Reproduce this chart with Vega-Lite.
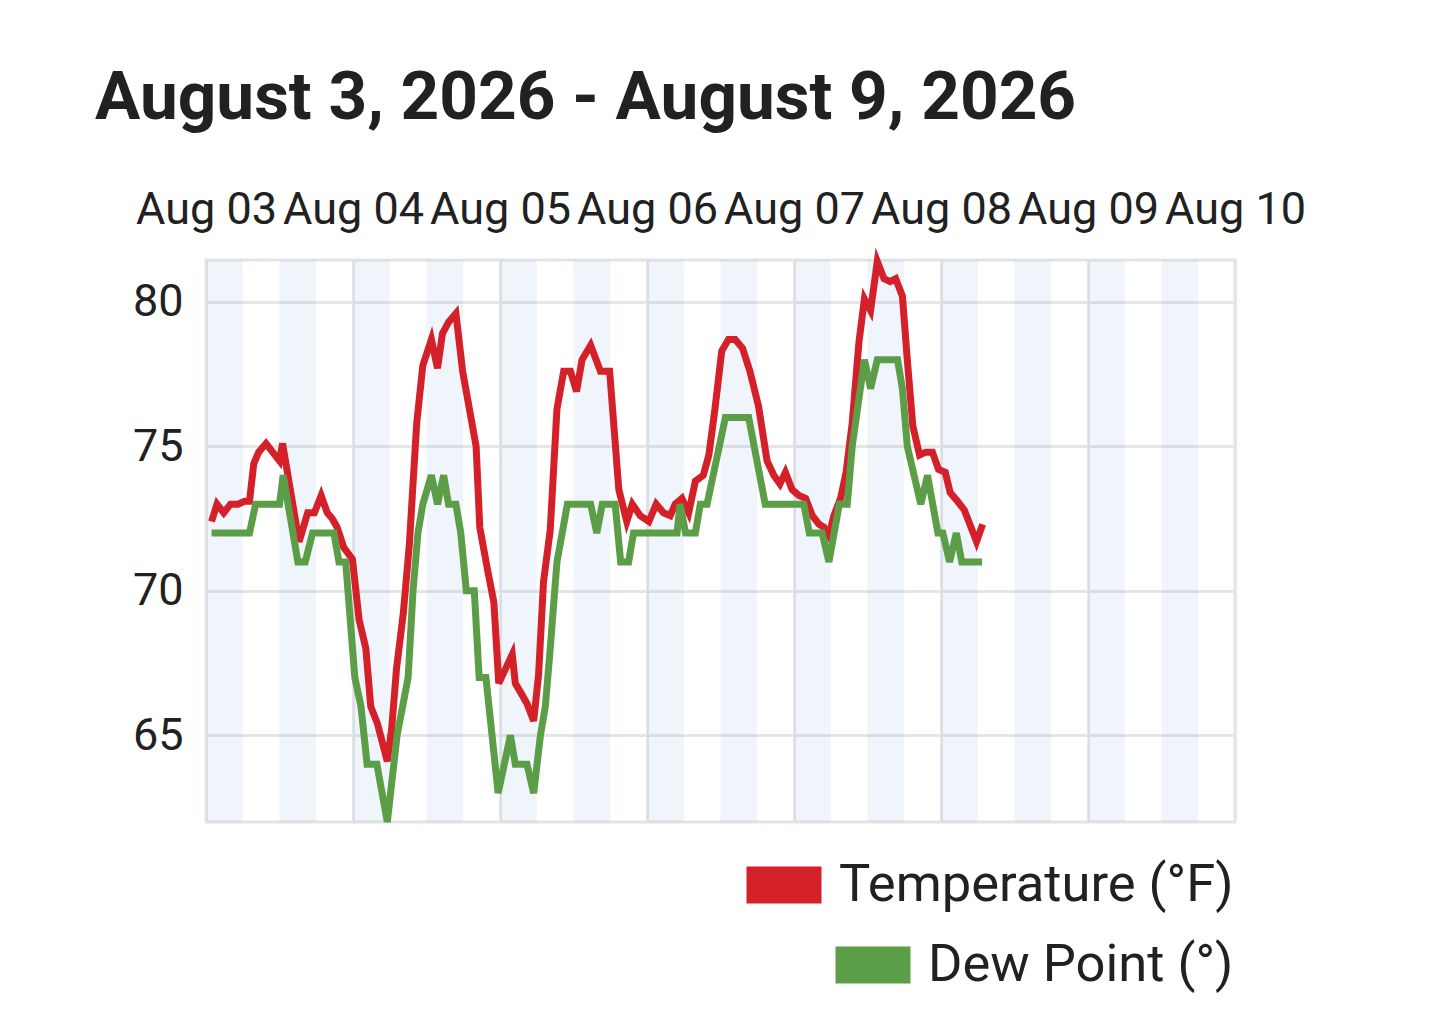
{
  "$schema": "https://vega.github.io/schema/vega-lite/v6.json",
  "autosize": {"type": "none"},
  "width": 1029,
  "height": 562,
  "padding": {"left": 206, "top": 260, "right": 204, "bottom": 197},
  "background": "white",
  "title": {
    "text": "August 3, 2026 - August 9, 2026",
    "anchor": "start",
    "frame": "group",
    "dx": -111,
    "offset": 54,
    "font": "Roboto",
    "fontSize": 67.5,
    "fontWeight": "bold",
    "color": "#212121"
  },
  "config": {
    "font": "Roboto",
    "view": {"stroke": "#e4e4e4", "strokeWidth": 3},
    "axis": {
      "domain": false,
      "ticks": false,
      "grid": true,
      "gridColor": "#e6e6e6",
      "gridWidth": 3,
      "labelFont": "Roboto",
      "labelFontSize": 45,
      "labelColor": "#212121",
      "title": null
    }
  },
  "datasets": {
    "bands": [
      {"s": "2026-08-03T00:00", "e": "2026-08-03T06:00"},
      {"s": "2026-08-03T12:00", "e": "2026-08-03T18:00"},
      {"s": "2026-08-04T00:00", "e": "2026-08-04T06:00"},
      {"s": "2026-08-04T12:00", "e": "2026-08-04T18:00"},
      {"s": "2026-08-05T00:00", "e": "2026-08-05T06:00"},
      {"s": "2026-08-05T12:00", "e": "2026-08-05T18:00"},
      {"s": "2026-08-06T00:00", "e": "2026-08-06T06:00"},
      {"s": "2026-08-06T12:00", "e": "2026-08-06T18:00"},
      {"s": "2026-08-07T00:00", "e": "2026-08-07T06:00"},
      {"s": "2026-08-07T12:00", "e": "2026-08-07T18:00"},
      {"s": "2026-08-08T00:00", "e": "2026-08-08T06:00"},
      {"s": "2026-08-08T12:00", "e": "2026-08-08T18:00"},
      {"s": "2026-08-09T00:00", "e": "2026-08-09T06:00"},
      {"s": "2026-08-09T12:00", "e": "2026-08-09T18:00"}
    ],
    "temp": [
      {"t": "2026-08-03T00:54", "v": 72.4},
      {"t": "2026-08-03T01:48", "v": 73.0},
      {"t": "2026-08-03T02:54", "v": 72.7},
      {"t": "2026-08-03T04:00", "v": 73.0},
      {"t": "2026-08-03T05:12", "v": 73.0},
      {"t": "2026-08-03T06:18", "v": 73.1},
      {"t": "2026-08-03T07:06", "v": 73.1},
      {"t": "2026-08-03T07:48", "v": 74.4},
      {"t": "2026-08-03T08:36", "v": 74.8},
      {"t": "2026-08-03T09:48", "v": 75.1},
      {"t": "2026-08-03T12:00", "v": 74.5},
      {"t": "2026-08-03T12:30", "v": 75.1},
      {"t": "2026-08-03T15:12", "v": 71.7},
      {"t": "2026-08-03T16:36", "v": 72.7},
      {"t": "2026-08-03T17:42", "v": 72.7},
      {"t": "2026-08-03T18:48", "v": 73.3},
      {"t": "2026-08-03T19:48", "v": 72.7},
      {"t": "2026-08-03T20:36", "v": 72.5},
      {"t": "2026-08-03T21:24", "v": 72.2},
      {"t": "2026-08-03T22:30", "v": 71.5},
      {"t": "2026-08-03T23:54", "v": 71.1},
      {"t": "2026-08-04T01:00", "v": 69.0},
      {"t": "2026-08-04T02:06", "v": 68.0},
      {"t": "2026-08-04T02:54", "v": 66.0},
      {"t": "2026-08-04T04:00", "v": 65.4},
      {"t": "2026-08-04T05:36", "v": 64.1},
      {"t": "2026-08-04T06:18", "v": 65.2},
      {"t": "2026-08-04T07:06", "v": 67.3},
      {"t": "2026-08-04T08:12", "v": 69.2},
      {"t": "2026-08-04T09:12", "v": 71.6},
      {"t": "2026-08-04T10:24", "v": 75.8},
      {"t": "2026-08-04T11:24", "v": 77.8},
      {"t": "2026-08-04T12:48", "v": 78.7},
      {"t": "2026-08-04T13:48", "v": 77.7},
      {"t": "2026-08-04T14:36", "v": 78.9},
      {"t": "2026-08-04T15:36", "v": 79.3},
      {"t": "2026-08-04T16:48", "v": 79.6},
      {"t": "2026-08-04T17:54", "v": 77.6},
      {"t": "2026-08-04T19:00", "v": 76.3},
      {"t": "2026-08-04T20:06", "v": 75.0},
      {"t": "2026-08-04T20:42", "v": 72.2},
      {"t": "2026-08-04T21:54", "v": 70.8},
      {"t": "2026-08-04T23:00", "v": 69.6},
      {"t": "2026-08-04T23:48", "v": 66.8},
      {"t": "2026-08-05T00:54", "v": 67.3},
      {"t": "2026-08-05T02:00", "v": 67.8},
      {"t": "2026-08-05T02:30", "v": 66.8},
      {"t": "2026-08-05T03:36", "v": 66.4},
      {"t": "2026-08-05T04:24", "v": 66.1},
      {"t": "2026-08-05T05:30", "v": 65.5},
      {"t": "2026-08-05T06:18", "v": 67.1},
      {"t": "2026-08-05T07:06", "v": 70.3},
      {"t": "2026-08-05T08:12", "v": 72.1},
      {"t": "2026-08-05T09:18", "v": 76.3},
      {"t": "2026-08-05T10:24", "v": 77.6},
      {"t": "2026-08-05T11:30", "v": 77.6},
      {"t": "2026-08-05T12:30", "v": 76.9},
      {"t": "2026-08-05T13:24", "v": 78.0},
      {"t": "2026-08-05T14:48", "v": 78.5},
      {"t": "2026-08-05T16:24", "v": 77.6},
      {"t": "2026-08-05T17:54", "v": 77.6},
      {"t": "2026-08-05T19:24", "v": 73.5},
      {"t": "2026-08-05T20:42", "v": 72.4},
      {"t": "2026-08-05T21:36", "v": 73.0},
      {"t": "2026-08-05T22:54", "v": 72.6},
      {"t": "2026-08-06T00:18", "v": 72.4},
      {"t": "2026-08-06T01:30", "v": 73.0},
      {"t": "2026-08-06T02:42", "v": 72.7},
      {"t": "2026-08-06T03:48", "v": 72.6},
      {"t": "2026-08-06T04:36", "v": 73.0},
      {"t": "2026-08-06T05:42", "v": 73.2},
      {"t": "2026-08-06T06:48", "v": 72.7},
      {"t": "2026-08-06T07:54", "v": 73.8},
      {"t": "2026-08-06T09:12", "v": 74.0},
      {"t": "2026-08-06T10:06", "v": 74.7},
      {"t": "2026-08-06T11:06", "v": 76.3},
      {"t": "2026-08-06T12:12", "v": 78.3},
      {"t": "2026-08-06T13:18", "v": 78.7},
      {"t": "2026-08-06T14:24", "v": 78.7},
      {"t": "2026-08-06T15:36", "v": 78.4},
      {"t": "2026-08-06T16:48", "v": 77.6},
      {"t": "2026-08-06T18:12", "v": 76.4},
      {"t": "2026-08-06T19:36", "v": 74.5},
      {"t": "2026-08-06T20:42", "v": 74.0},
      {"t": "2026-08-06T21:42", "v": 73.7},
      {"t": "2026-08-06T22:36", "v": 74.1},
      {"t": "2026-08-06T23:42", "v": 73.5},
      {"t": "2026-08-07T00:48", "v": 73.3},
      {"t": "2026-08-07T01:54", "v": 73.2},
      {"t": "2026-08-07T03:00", "v": 72.6},
      {"t": "2026-08-07T04:06", "v": 72.3},
      {"t": "2026-08-07T04:54", "v": 72.2},
      {"t": "2026-08-07T05:42", "v": 71.9},
      {"t": "2026-08-07T06:30", "v": 72.6},
      {"t": "2026-08-07T07:36", "v": 73.2},
      {"t": "2026-08-07T08:30", "v": 74.1},
      {"t": "2026-08-07T09:30", "v": 75.8},
      {"t": "2026-08-07T10:36", "v": 78.6},
      {"t": "2026-08-07T11:30", "v": 80.1},
      {"t": "2026-08-07T12:30", "v": 79.7},
      {"t": "2026-08-07T13:36", "v": 81.4},
      {"t": "2026-08-07T14:42", "v": 80.8},
      {"t": "2026-08-07T15:42", "v": 80.7},
      {"t": "2026-08-07T16:36", "v": 80.8},
      {"t": "2026-08-07T17:42", "v": 80.2},
      {"t": "2026-08-07T18:30", "v": 78.0},
      {"t": "2026-08-07T19:24", "v": 75.7},
      {"t": "2026-08-07T20:30", "v": 74.7},
      {"t": "2026-08-07T21:30", "v": 74.8},
      {"t": "2026-08-07T22:36", "v": 74.8},
      {"t": "2026-08-07T23:36", "v": 74.2},
      {"t": "2026-08-08T00:42", "v": 74.1},
      {"t": "2026-08-08T01:30", "v": 73.4},
      {"t": "2026-08-08T02:42", "v": 73.1},
      {"t": "2026-08-08T03:48", "v": 72.8},
      {"t": "2026-08-08T04:54", "v": 72.2},
      {"t": "2026-08-08T05:48", "v": 71.7},
      {"t": "2026-08-08T06:48", "v": 72.3}
    ],
    "dew": [
      {"t": "2026-08-03T00:54", "v": 72},
      {"t": "2026-08-03T07:06", "v": 72},
      {"t": "2026-08-03T08:06", "v": 73},
      {"t": "2026-08-03T12:00", "v": 73},
      {"t": "2026-08-03T12:36", "v": 74},
      {"t": "2026-08-03T15:00", "v": 71},
      {"t": "2026-08-03T16:12", "v": 71},
      {"t": "2026-08-03T17:24", "v": 72},
      {"t": "2026-08-03T20:54", "v": 72},
      {"t": "2026-08-03T21:42", "v": 71},
      {"t": "2026-08-03T22:48", "v": 71},
      {"t": "2026-08-04T00:18", "v": 67},
      {"t": "2026-08-04T01:18", "v": 66},
      {"t": "2026-08-04T02:18", "v": 64},
      {"t": "2026-08-04T03:54", "v": 64},
      {"t": "2026-08-04T05:36", "v": 62},
      {"t": "2026-08-04T07:12", "v": 65},
      {"t": "2026-08-04T09:00", "v": 67},
      {"t": "2026-08-04T09:48", "v": 70},
      {"t": "2026-08-04T10:36", "v": 72},
      {"t": "2026-08-04T11:24", "v": 73},
      {"t": "2026-08-04T12:48", "v": 74},
      {"t": "2026-08-04T13:48", "v": 73},
      {"t": "2026-08-04T14:48", "v": 74},
      {"t": "2026-08-04T15:36", "v": 73},
      {"t": "2026-08-04T16:48", "v": 73},
      {"t": "2026-08-04T17:36", "v": 72},
      {"t": "2026-08-04T18:30", "v": 70},
      {"t": "2026-08-04T19:48", "v": 70},
      {"t": "2026-08-04T20:36", "v": 67},
      {"t": "2026-08-04T21:42", "v": 67},
      {"t": "2026-08-04T23:42", "v": 63},
      {"t": "2026-08-05T01:42", "v": 65},
      {"t": "2026-08-05T02:30", "v": 64},
      {"t": "2026-08-05T04:24", "v": 64},
      {"t": "2026-08-05T05:30", "v": 63},
      {"t": "2026-08-05T06:36", "v": 65},
      {"t": "2026-08-05T07:24", "v": 66},
      {"t": "2026-08-05T08:12", "v": 68},
      {"t": "2026-08-05T09:18", "v": 71},
      {"t": "2026-08-05T11:00", "v": 73},
      {"t": "2026-08-05T14:48", "v": 73},
      {"t": "2026-08-05T15:48", "v": 72},
      {"t": "2026-08-05T16:42", "v": 73},
      {"t": "2026-08-05T18:48", "v": 73},
      {"t": "2026-08-05T19:42", "v": 71},
      {"t": "2026-08-05T21:00", "v": 71},
      {"t": "2026-08-05T21:48", "v": 72},
      {"t": "2026-08-06T04:54", "v": 72},
      {"t": "2026-08-06T05:24", "v": 73},
      {"t": "2026-08-06T06:18", "v": 72},
      {"t": "2026-08-06T07:54", "v": 72},
      {"t": "2026-08-06T08:42", "v": 73},
      {"t": "2026-08-06T09:48", "v": 73},
      {"t": "2026-08-06T12:48", "v": 76},
      {"t": "2026-08-06T16:36", "v": 76},
      {"t": "2026-08-06T19:18", "v": 73},
      {"t": "2026-08-07T01:36", "v": 73},
      {"t": "2026-08-07T02:30", "v": 72},
      {"t": "2026-08-07T04:36", "v": 72},
      {"t": "2026-08-07T05:42", "v": 71},
      {"t": "2026-08-07T07:24", "v": 73},
      {"t": "2026-08-07T08:42", "v": 73},
      {"t": "2026-08-07T09:30", "v": 75},
      {"t": "2026-08-07T11:30", "v": 78},
      {"t": "2026-08-07T12:30", "v": 77},
      {"t": "2026-08-07T13:36", "v": 78},
      {"t": "2026-08-07T16:54", "v": 78},
      {"t": "2026-08-07T17:42", "v": 77},
      {"t": "2026-08-07T18:30", "v": 75},
      {"t": "2026-08-07T19:36", "v": 74},
      {"t": "2026-08-07T20:42", "v": 73},
      {"t": "2026-08-07T21:48", "v": 74},
      {"t": "2026-08-07T23:30", "v": 72},
      {"t": "2026-08-08T00:18", "v": 72},
      {"t": "2026-08-08T01:24", "v": 71},
      {"t": "2026-08-08T02:30", "v": 72},
      {"t": "2026-08-08T03:24", "v": 71},
      {"t": "2026-08-08T06:42", "v": 71}
    ]
  },
  "encoding": {
    "x": {
      "type": "temporal",
      "scale": {"domain": [{"year": 2026, "month": "aug", "date": 3}, {"year": 2026, "month": "aug", "date": 10}]},
      "axis": {
        "orient": "top",
        "format": "%b %d",
        "tickCount": {"interval": "day", "step": 1},
        "labelFlush": false,
        "labelOverlap": false,
        "labelPadding": 28
      }
    },
    "y": {
      "type": "quantitative",
      "scale": {"domain": [62, 81.45], "nice": false, "zero": false},
      "axis": {"values": [65, 70, 75, 80], "labelPadding": 23}
    }
  },
  "layer": [
    {
      "data": {"name": "bands"},
      "mark": {"type": "rect", "color": "#6fa0d8", "opacity": 0.1},
      "encoding": {
        "x": {"field": "s", "type": "temporal"},
        "x2": {"field": "e"},
        "y": {"datum": 62, "type": "quantitative"},
        "y2": {"datum": 81.45}
      }
    },
    {
      "data": {"name": "temp"},
      "mark": {"type": "line", "strokeWidth": 7},
      "encoding": {
        "x": {"field": "t", "type": "temporal"},
        "y": {"field": "v", "type": "quantitative"},
        "color": {
          "datum": "Temperature (°F)",
          "type": "nominal",
          "scale": {"range": ["#d42029"]},
          "legend": {
            "orient": "none", "legendX": 522, "legendY": 569, "title": null,
            "symbolType": "stroke", "symbolSize": 5625, "symbolStrokeWidth": 37,
            "labelFontSize": 52.5, "labelColor": "#212121", "labelOffset": -1, "labelLimit": 0
          }
        }
      }
    },
    {
      "data": {"name": "dew"},
      "mark": {"type": "line", "strokeWidth": 7},
      "encoding": {
        "x": {"field": "t", "type": "temporal"},
        "y": {"field": "v", "type": "quantitative"},
        "stroke": {
          "datum": "Dew Point (°)",
          "type": "nominal",
          "scale": {"range": ["#5b9e47"]},
          "legend": {
            "orient": "none", "legendX": 611, "legendY": 649, "title": null,
            "symbolType": "stroke", "symbolSize": 5625, "symbolStrokeWidth": 37,
            "labelFontSize": 52.5, "labelColor": "#212121", "labelOffset": -1, "labelLimit": 0
          }
        }
      }
    }
  ]
}
